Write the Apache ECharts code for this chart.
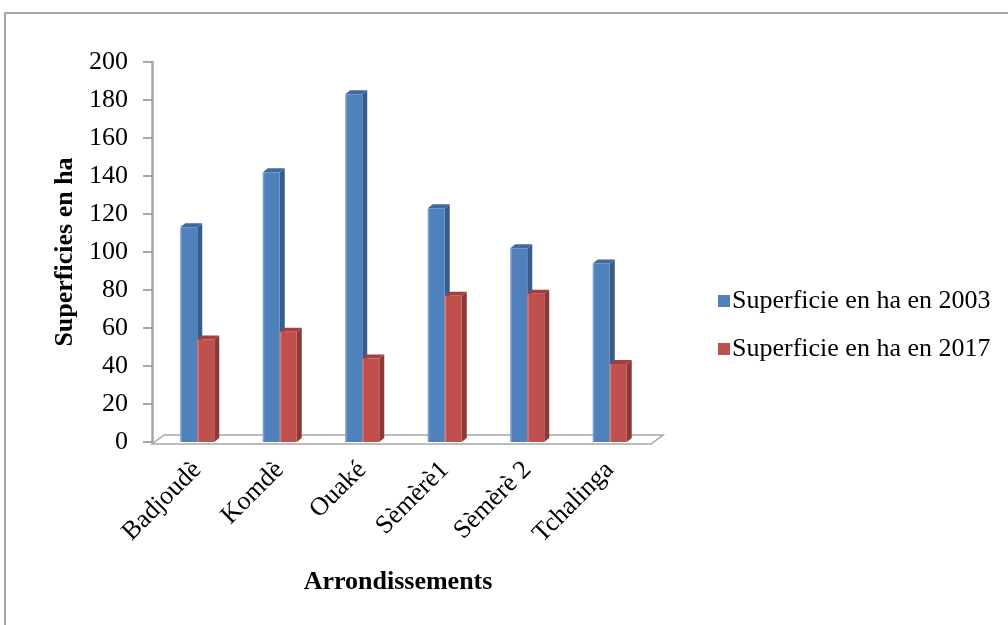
<!DOCTYPE html>
<html>
<head>
<meta charset="utf-8">
<script src="https://cdn.jsdelivr.net/npm/echarts@6/dist/echarts.min.js"></script>
<style>html,body{margin:0;padding:0;background:#fff}#c{width:1008px;height:625px}</style>
</head>
<body>
<div id="c"></div>
<script>
var categories = ['Badjoudè', 'Komdè', 'Ouaké', 'Sèmèrè1', 'Sèmèrè 2', 'Tchalinga'];
var values2003 = [113, 142, 183, 123, 102, 94];
var values2017 = [54, 58, 44, 77, 78, 41];
var yTicks = { min: 0, max: 200, interval: 20 };
var seriesNames = ['Superficie en ha en 2003', 'Superficie en ha en 2017'];

var FONT = '"Liberation Serif", "Times New Roman", serif';
var W = 17, DX = 5, DY = 4;

function bar3d(front, side, top, dir) {
  return function (params, api) {
    var i = api.value(0), v = api.value(1);
    var base = api.coord([i, 0]);
    var tp = api.coord([i, v]);
    var x0 = dir < 0 ? base[0] - W : base[0];
    var x1 = x0 + W;
    var yb = base[1], yt = tp[1];
    return {
      type: 'group',
      children: [
        { type: 'polygon', shape: { points: [[x1, yb], [x1 + DX, yb - DY], [x1 + DX, yt - DY], [x1, yt]] }, style: { fill: side } },
        { type: 'polygon', shape: { points: [[x0, yt], [x0 + DX, yt - DY], [x1 + DX, yt - DY], [x1, yt]] }, style: { fill: top } },
        { type: 'rect', shape: { x: x0, y: yt, width: W, height: yb - yt }, style: { fill: front } },
        { type: 'rect', shape: { x: x0, y: yt, width: 1.5, height: yb - yt }, style: { fill: 'rgba(255,255,255,0.25)' } }
      ]
    };
  };
}

function floorItem(params, api) {
  var n = categories.length;
  var c0 = api.coord([0, 0]);
  var band = api.size([1, 0])[0];
  var left = c0[0] - band / 2 - 4;
  var right = c0[0] + band * (n - 0.5);
  var y = c0[1] + 2;
  var bx = 12, by = 9;
  return {
    type: 'polygon',
    shape: { points: [[left, y], [left + bx, y - by], [right + bx, y - by], [right, y]] },
    style: { fill: '#fff', stroke: '#a6a6a6', lineWidth: 1.5 }
  };
}

var chart = echarts.init(document.getElementById('c'));
chart.setOption({
  animation: false,
  backgroundColor: '#fff',
  textStyle: { fontFamily: FONT, color: '#000' },
  grid: { left: 156, right: 357, top: 62, bottom: 183, containLabel: false },
  graphic: [
    { type: 'rect', shape: { x: 5, y: 13, width: 1010, height: 620 }, style: { fill: 'none', stroke: '#8c8c8c', lineWidth: 1.5 }, z: -1 },
    { type: 'text', x: 398, y: 582, style: { text: 'Arrondissements', font: 'bold 26px ' + FONT, fill: '#000', textAlign: 'center', textVerticalAlign: 'middle' } }
  ],
  legend: {
    orient: 'vertical', left: 713, top: 283, itemWidth: 12, itemHeight: 12, itemGap: 22,
    icon: 'rect',
    textStyle: { fontFamily: FONT, fontSize: 26, color: '#000', padding: [0, 0, 0, -3] },
    data: seriesNames
  },
  xAxis: {
    type: 'category', data: categories,
    axisLine: { show: false }, axisTick: { show: false },
    axisLabel: { rotate: 45, margin: 24, fontFamily: FONT, fontSize: 26, color: '#000', interval: 0 }
  },
  yAxis: {
    type: 'value', min: yTicks.min, max: yTicks.max, interval: yTicks.interval, offset: 4,
    name: 'Superficies en ha', nameLocation: 'middle', nameGap: 74,
    nameTextStyle: { fontFamily: FONT, fontSize: 26, fontWeight: 'bold', color: '#000' },
    axisLine: { show: true, lineStyle: { color: '#a6a6a6', width: 2.5 } },
    axisTick: { show: true, length: 9, lineStyle: { color: '#8c8c8c', width: 1.5 } },
    splitLine: { show: false },
    axisLabel: { margin: 24, fontFamily: FONT, fontSize: 26, color: '#000' }
  },
  series: [
    { type: 'custom', name: 'floor', renderItem: floorItem, data: [[0, 0]], z: 1, silent: true, legendHoverLink: false },
    { type: 'custom', name: seriesNames[0], itemStyle: { color: '#4f81bd' },
      renderItem: bar3d('#4f81bd', '#385d8a', '#41699c', -1),
      data: values2003.map(function (v, i) { return [i, v]; }), z: 2 },
    { type: 'custom', name: seriesNames[1], itemStyle: { color: '#c0504d' },
      renderItem: bar3d('#c0504d', '#8c3836', '#a33f3c', 1),
      data: values2017.map(function (v, i) { return [i, v]; }), z: 3 }
  ]
});
</script>
</body>
</html>
